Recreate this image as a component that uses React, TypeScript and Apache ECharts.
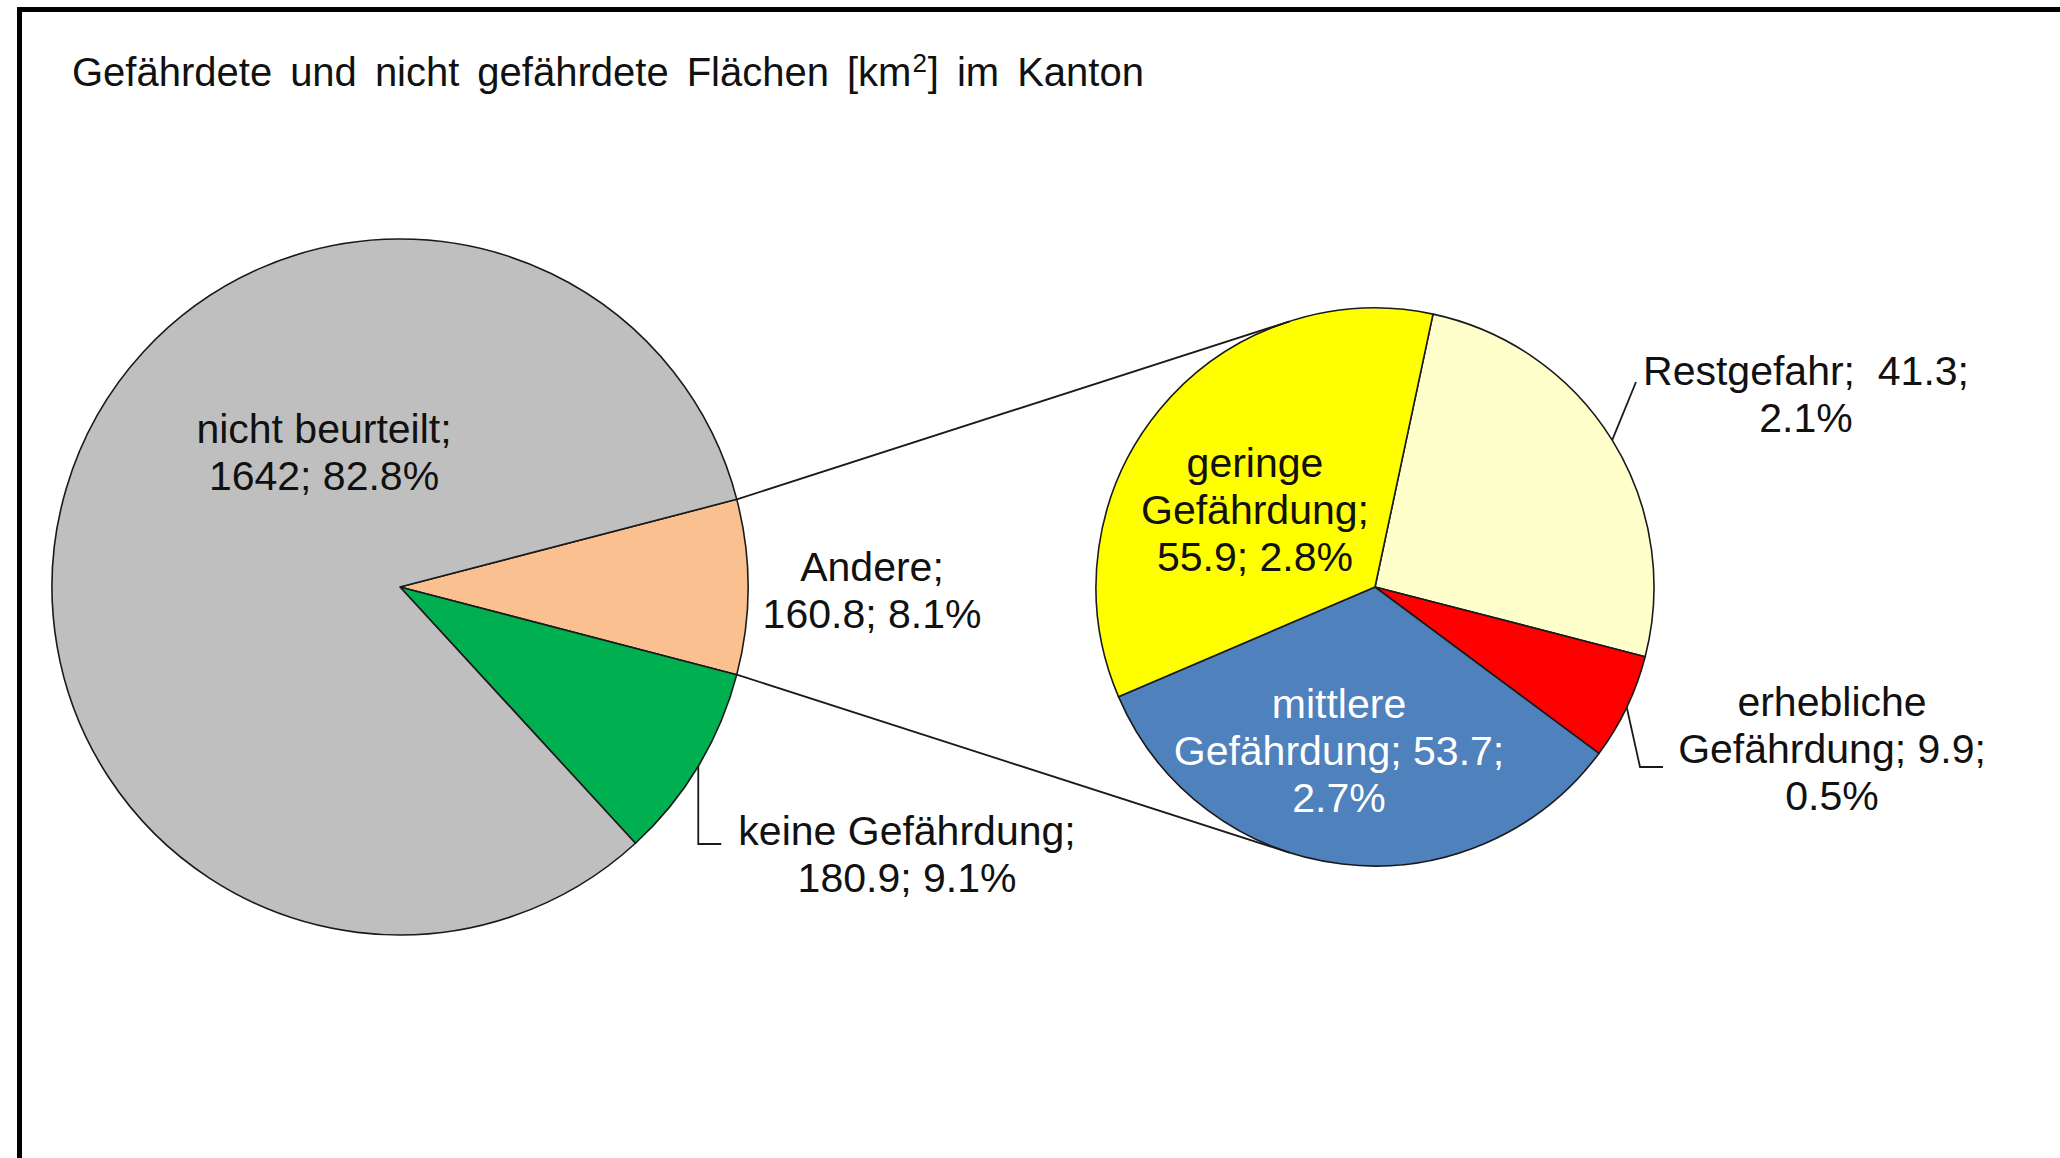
import React, { useEffect, useRef } from "react";
import * as echarts from "echarts";

// ---------- data ----------
const TITLE = "Gefährdete und nicht gefährdete Flächen [km²] im Kanton";

const mainCategories = ["Andere", "keine Gefährdung", "nicht beurteilt"];
const mainValues = [160.8, 180.9, 1642];
const mainColors = ["#FAC090", "#00B050", "#BFBFBF"];

const detailCategories = ["Restgefahr", "erhebliche Gefährdung", "mittlere Gefährdung", "geringe Gefährdung"];
const detailValues = [41.3, 9.9, 53.7, 55.9];
const detailColors = ["#FFFFCC", "#FF0000", "#4F81BD", "#FFFF00"];

// label line-break templates ({n1} first word, {n2} rest of name)
const labelTemplates: Record<string, string> = {
  "Andere": "{name};\n{value}; {pct}",
  "keine Gefährdung": "{name};\n{value}; {pct}",
  "nicht beurteilt": "{name};\n{value}; {pct}",
  "Restgefahr": "{name};  {value};\n{pct}",
  "erhebliche Gefährdung": "{n1}\n{n2}; {value};\n{pct}",
  "mittlere Gefährdung": "{n1}\n{n2}; {value};\n{pct}",
  "geringe Gefährdung": "{n1}\n{n2};\n{value}; {pct}",
};

// ---------- layout ----------
const W = 2060;
const H = 1158;
const FONT = "'Liberation Sans', Arial, Helvetica, sans-serif";
const L = { cx: 400, cy: 587, r: 348 };
const R = { cx: 1375, cy: 587, r: 279 };
const DETAIL_START = 78;

const sum = (a: number[]) => a.reduce((s, v) => s + v, 0);
const mainTotal = sum(mainValues);
const detailTotal = sum(detailValues);
const andereSpan = (mainValues[0] / mainTotal) * 360;
const MAIN_START = andereSpan / 2;

const rad = (d: number) => (d * Math.PI) / 180;
const polar = (c: { cx: number; cy: number; r: number }, deg: number, rr = c.r) => [
  c.cx + rr * Math.cos(rad(deg)),
  c.cy - rr * Math.sin(rad(deg)),
];
const midAngle = (vals: number[], total: number, start: number, i: number) => {
  const before = sum(vals.slice(0, i));
  return start - ((before + vals[i] / 2) / total) * 360;
};
const tangent = (P: number[], c: { cx: number; cy: number; r: number }, upper: boolean) => {
  const dx = P[0] - c.cx;
  const dy = P[1] - c.cy;
  const d = Math.sqrt(dx * dx + dy * dy);
  const phi = Math.atan2(dy, dx);
  const a = Math.acos(c.r / d);
  const p1 = [c.cx + c.r * Math.cos(phi + a), c.cy + c.r * Math.sin(phi + a)];
  const p2 = [c.cx + c.r * Math.cos(phi - a), c.cy + c.r * Math.sin(phi - a)];
  const up = p1[1] < p2[1] ? p1 : p2;
  const lo = p1[1] < p2[1] ? p2 : p1;
  return upper ? up : lo;
};

// label centres relative to the pie centres
const labelOffsets: Record<string, number[]> = {
  "nicht beurteilt": [-76, -135],
  "Andere": [472, 3],
  "keine Gefährdung": [507, 267],
  "geringe Gefährdung": [-120, -77],
  "mittlere Gefährdung": [-36, 164],
  "erhebliche Gefährdung": [457, 162],
  "Restgefahr": [431, -193],
};

const fmtNum = (v: number) => (Number.isInteger(v) ? String(v) : v.toFixed(1));
const fmtLabel = (name: string, value: number) => {
  const t = labelTemplates[name] || "{name};\n{value}; {pct}";
  const sp = name.indexOf(" ");
  const n1 = sp > 0 ? name.slice(0, sp) : name;
  const n2 = sp > 0 ? name.slice(sp + 1) : "";
  return t
    .replace("{name}", name)
    .replace("{n1}", n1)
    .replace("{n2}", n2)
    .replace("{value}", fmtNum(value))
    .replace("{pct}", ((value / mainTotal) * 100).toFixed(1) + "%");
};

// title as rich text: wide word gaps and a real superscript
const richTitle = () =>
  TITLE.split(" ")
    .map((word) => {
      const i = word.indexOf("²");
      if (i >= 0) {
        return `{w|${word.slice(0, i)}}{sup|2}{w|${word.slice(i + 1)}}`;
      }
      return `{w|${word}}`;
    })
    .join("{s| }");

function buildOption() {
  const upperEdge = polar(L, MAIN_START);
  const lowerEdge = polar(L, MAIN_START - andereSpan);
  const upperEnd = tangent(upperEdge, R, true);
  const lowerEnd = tangent(lowerEdge, R, false);

  const outsideMain = new Set(["Andere", "keine Gefährdung"]);
  const outsideDetail = new Set(["Restgefahr", "erhebliche Gefährdung"]);

  const leader = (seriesIndex: number, dataIndex: number): number[][] | undefined => {
    if (seriesIndex === 0 && mainCategories[dataIndex] === "keine Gefährdung") {
      const s = polar(L, midAngle(mainValues, mainTotal, MAIN_START, dataIndex));
      return [s, [s[0], L.cy + 257], [s[0] + 23, L.cy + 257]];
    }
    if (seriesIndex === 1 && detailCategories[dataIndex] === "erhebliche Gefährdung") {
      const s = polar(R, midAngle(detailValues, detailTotal, DETAIL_START, dataIndex));
      return [s, [R.cx + 265, R.cy + 180], [R.cx + 288, R.cy + 180]];
    }
    if (seriesIndex === 1 && detailCategories[dataIndex] === "Restgefahr") {
      const s = polar(R, midAngle(detailValues, detailTotal, DETAIL_START, dataIndex));
      return [s, [R.cx + 261, R.cy - 205], [R.cx + 261, R.cy - 205]];
    }
    return undefined;
  };

  const labelLayout = (params: any) => {
    const si = params.seriesIndex;
    const di = params.dataIndex;
    const name = si === 0 ? mainCategories[di] : detailCategories[di];
    const c = si === 0 ? L : R;
    const off = labelOffsets[name] || [0, 0];
    const res: any = {
      x: c.cx + off[0],
      y: c.cy + off[1],
      align: "center",
      verticalAlign: "middle",
    };
    const pts = leader(si, di);
    if (pts) res.labelLinePoints = pts;
    return res;
  };

  const baseLabel = {
    show: true,
    fontFamily: FONT,
    fontSize: 41,
    lineHeight: 47,
    color: "#111",
    align: "center",
    formatter: (p: any) => fmtLabel(p.name, p.value),
  };

  const mainData = mainCategories.map((name, i) => {
    const outside = outsideMain.has(name);
    return {
      name,
      value: mainValues[i],
      itemStyle: { color: mainColors[i] },
      label: { position: outside ? "outside" : "inside" },
      labelLine: { show: name === "keine Gefährdung" },
    };
  });
  const detailData = detailCategories.map((name, i) => {
    const outside = outsideDetail.has(name);
    return {
      name,
      value: detailValues[i],
      itemStyle: { color: detailColors[i] },
      label: {
        position: outside ? "outside" : "inside",
        color: name === "mittlere Gefährdung" ? "#FFFFFF" : "#111",
      },
      labelLine: { show: outside },
    };
  });

  const lineStyle = { stroke: "#1a1a1a", lineWidth: 1.8 };

  return {
    animation: false,
    backgroundColor: "#FFFFFF",
    title: {
      text: richTitle(),
      left: 72,
      top: 49,
      padding: 0,
      textStyle: {
        fontFamily: FONT,
        fontSize: 40,
        fontWeight: "normal",
        color: "#111",
        rich: {
          w: { fontFamily: FONT, fontSize: 40, lineHeight: 46, color: "#111" },
          s: { fontFamily: FONT, fontSize: 40, lineHeight: 46, width: 18 },
          sup: { fontFamily: FONT, fontSize: 26, lineHeight: 46, color: "#111", verticalAlign: "top", padding: [1, 1, 0, 1] },
        },
      },
    },
    series: [
      {
        type: "pie",
        center: [L.cx, L.cy],
        radius: L.r,
        startAngle: MAIN_START,
        clockwise: true,
        avoidLabelOverlap: false,
        data: mainData,
        label: baseLabel,
        labelLine: { lineStyle: { color: "#1a1a1a", width: 1.8 }, smooth: false },
        labelLayout,
        itemStyle: { borderColor: "#1a1a1a", borderWidth: 1.6 },
        emphasis: { disabled: true },
      },
      {
        type: "pie",
        center: [R.cx, R.cy],
        radius: R.r,
        startAngle: DETAIL_START,
        clockwise: true,
        avoidLabelOverlap: false,
        data: detailData,
        label: baseLabel,
        labelLine: { lineStyle: { color: "#1a1a1a", width: 1.8 }, smooth: false },
        labelLayout,
        itemStyle: { borderColor: "#1a1a1a", borderWidth: 1.6 },
        emphasis: { disabled: true },
      },
    ],
    graphic: [
      {
        type: "rect",
        shape: { x: 19.5, y: 9.5, width: W + 100, height: H + 100 },
        style: { fill: "none", stroke: "#000", lineWidth: 5 },
        silent: true,
        z: 100,
      },
      {
        type: "line",
        shape: { x1: upperEdge[0], y1: upperEdge[1], x2: upperEnd[0], y2: upperEnd[1] },
        style: lineStyle,
        silent: true,
        z: 50,
      },
      {
        type: "line",
        shape: { x1: lowerEdge[0], y1: lowerEdge[1], x2: lowerEnd[0], y2: lowerEnd[1] },
        style: lineStyle,
        silent: true,
        z: 50,
      },
    ],
  };
}

export default function App() {
  const ref = useRef<HTMLDivElement>(null);
  useEffect(() => {
    if (!ref.current) return;
    const chart = echarts.init(ref.current, null, { renderer: "svg" });
    chart.setOption(buildOption() as any);
    return () => chart.dispose();
  }, []);
  return (
    <div
      ref={ref}
      style={{ position: "fixed", left: 0, top: 0, width: W, height: H, background: "#fff" }}
    />
  );
}
